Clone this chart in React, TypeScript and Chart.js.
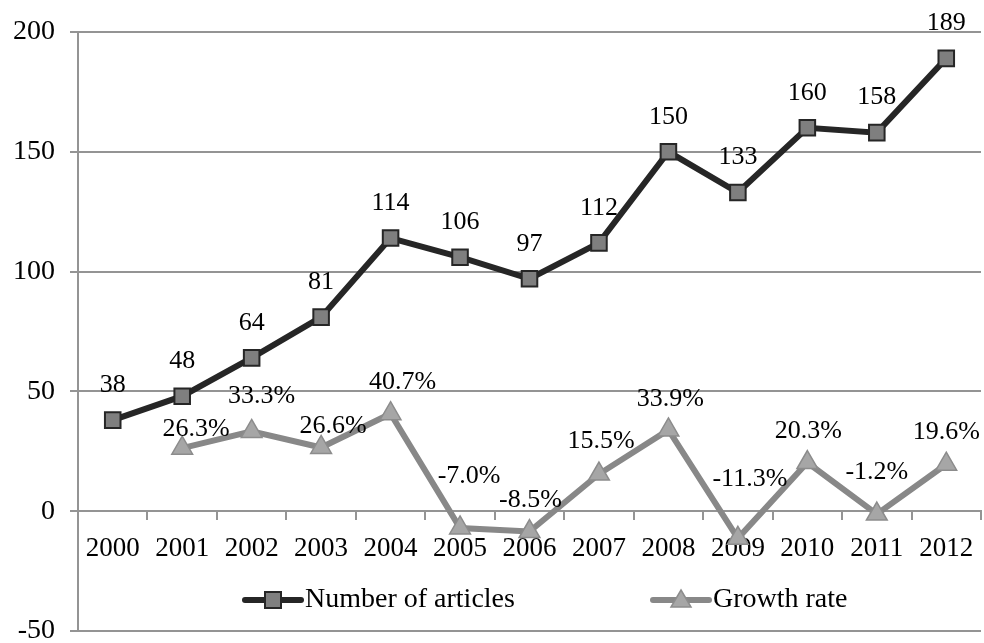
import React, { useEffect, useRef } from "react";
import { Chart, registerables } from "chart.js";

Chart.register(...registerables);

const years = ["2000", "2001", "2002", "2003", "2004", "2005", "2006", "2007", "2008", "2009", "2010", "2011", "2012"];
const articles = [38, 48, 64, 81, 114, 106, 97, 112, 150, 133, 160, 158, 189];
const growth = [null, 26.3, 33.3, 26.6, 40.7, -7.0, -8.5, 15.5, 33.9, -11.3, 20.3, -1.2, 19.6];
const growthLabels = ["", "26.3%", "33.3%", "26.6%", "40.7%", "-7.0%", "-8.5%", "15.5%", "33.9%", "-11.3%", "20.3%", "-1.2%", "19.6%"];
const seriesNames = ["Number of articles", "Growth rate"];
const yMin = -50;
const yMax = 200;
const yStep = 50;

// label placement (style): pixel offsets from point
const growthLabelOffsets: [number, number][] = [
  [0, 0], [14, -19], [10, -35], [12, -21], [12, -32], [9, -52], [1, -31], [2, -33], [2, -31], [12, -59], [1, -31], [0, -42], [0, -32],
];
const articleLabelOffset: [number, number] = [0, -35];

const FONT = '"Liberation Serif", "Times New Roman", serif';
const GRID = "#949494";
const DARK = "#262626";
const SQ_FILL = "#7f7f7f";
const GR_LINE = "#888888";
const TRI_FILL = "#a6a6a6";
const TRI_BORDER = "#8c8c8c";

const labelsPlugin = {
  id: "valueLabels",
  afterDatasetsDraw(chart: any) {
    const ctx = chart.ctx;
    ctx.save();
    ctx.font = `26px ${FONT}`;
    ctx.fillStyle = "#000";
    ctx.textAlign = "center";
    ctx.textBaseline = "middle";
    const m0 = chart.getDatasetMeta(0);
    m0.data.forEach((el: any, i: number) => {
      ctx.fillText(String(articles[i]), el.x + articleLabelOffset[0], el.y + articleLabelOffset[1]);
    });
    const m1 = chart.getDatasetMeta(1);
    m1.data.forEach((el: any, i: number) => {
      if (growth[i] === null) return;
      const o = growthLabelOffsets[i];
      ctx.fillText(growthLabels[i], el.x + o[0], el.y + o[1]);
    });
    ctx.restore();
  },
};

const legendPlugin = {
  id: "innerLegend",
  afterDraw(chart: any) {
    const ctx = chart.ctx;
    const a = chart.chartArea;
    const y = a.bottom - 31;
    ctx.save();
    // series 1
    let x0 = a.left + 167;
    ctx.strokeStyle = DARK;
    ctx.lineWidth = 6;
    ctx.lineCap = "round";
    ctx.beginPath();
    ctx.moveTo(x0, y);
    ctx.lineTo(x0 + 56, y);
    ctx.stroke();
    ctx.fillStyle = SQ_FILL;
    ctx.lineWidth = 2;
    ctx.fillRect(x0 + 20, y - 8, 16, 16);
    ctx.strokeRect(x0 + 20, y - 8, 16, 16);
    ctx.font = `28px ${FONT}`;
    ctx.fillStyle = "#000";
    ctx.textAlign = "left";
    ctx.textBaseline = "middle";
    ctx.fillText(seriesNames[0], x0 + 60, y);
    // series 2
    x0 = a.left + 575;
    ctx.strokeStyle = GR_LINE;
    ctx.lineWidth = 6;
    ctx.beginPath();
    ctx.moveTo(x0, y);
    ctx.lineTo(x0 + 56, y);
    ctx.stroke();
    ctx.fillStyle = TRI_FILL;
    ctx.strokeStyle = TRI_BORDER;
    ctx.lineWidth = 1.5;
    ctx.beginPath();
    ctx.moveTo(x0 + 28, y - 10);
    ctx.lineTo(x0 + 38, y + 7);
    ctx.lineTo(x0 + 18, y + 7);
    ctx.closePath();
    ctx.fill();
    ctx.stroke();
    ctx.fillStyle = "#000";
    ctx.fillText(seriesNames[1], x0 + 60, y);
    ctx.restore();
  },
};

export default function App() {
  const ref = useRef<HTMLCanvasElement>(null);
  useEffect(() => {
    document.body.style.margin = "0";
    const chart = new Chart(ref.current!, {
      type: "line",
      data: {
        labels: years,
        datasets: [
          {
            label: seriesNames[0],
            data: articles,
            borderColor: DARK,
            borderWidth: 6,
            backgroundColor: SQ_FILL,
            pointStyle: "rect",
            pointRadius: 11,
            pointBorderWidth: 2,
            pointBorderColor: DARK,
            pointBackgroundColor: SQ_FILL,
            tension: 0,
            order: 2,
          },
          {
            label: seriesNames[1],
            data: growth,
            borderColor: GR_LINE,
            borderWidth: 6,
            backgroundColor: TRI_FILL,
            pointStyle: "triangle",
            pointRadius: 12,
            pointBorderWidth: 1.5,
            pointBorderColor: TRI_BORDER,
            pointBackgroundColor: TRI_FILL,
            tension: 0,
            order: 1,
          },
        ],
      },
      options: {
        responsive: false,
        animation: false,
        layout: { autoPadding: false, padding: { top: 32, right: 3, bottom: 12, left: 0 } },
        plugins: { legend: { display: false }, tooltip: { enabled: false } },
        scales: {
          x: {
            type: "category",
            position: { y: 0 } as any,
            offset: true,
            afterFit: (s: any) => {
              s.height = 0;
              s.paddingLeft = 0;
              s.paddingRight = 0;
              s.paddingTop = 0;
              s.paddingBottom = 0;
            },
            grid: {
              display: true,
              drawOnChartArea: false,
              drawTicks: true,
              tickLength: 8,
              offset: true,
              color: GRID,
              lineWidth: 2,
            },
            border: { display: true, color: GRID, width: 2 },
            ticks: { font: { family: FONT, size: 27 }, color: "#000", padding: 14, maxRotation: 0, autoSkip: false },
          },
          y: {
            min: yMin,
            max: yMax,
            afterFit: (s: any) => {
              s.width = 78;
              s.paddingTop = 0;
              s.paddingBottom = 0;
            },
            grid: { color: GRID, lineWidth: 2, tickLength: 8, drawTicks: true },
            border: { display: true, color: GRID, width: 2 },
            ticks: { stepSize: yStep, font: { family: FONT, size: 28 }, color: "#000", padding: 15 },
          },
        },
      },
      plugins: [labelsPlugin, legendPlugin],
    });
    return () => chart.destroy();
  }, []);
  return (
    <div style={{ width: 984, height: 643, background: "#fff" }}>
      <canvas ref={ref} width={984} height={643} />
    </div>
  );
}
